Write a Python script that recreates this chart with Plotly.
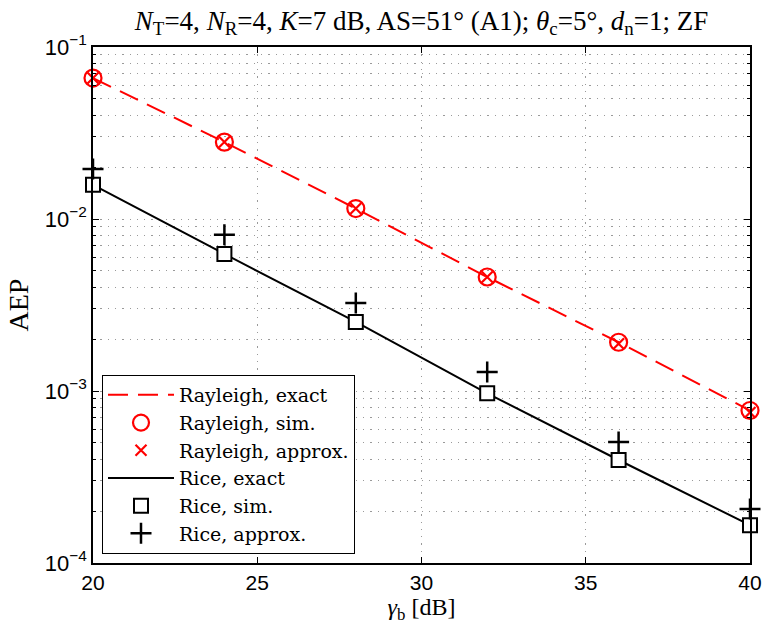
import plotly.graph_objects as go

gamma_b = [20, 24, 28, 32, 36, 40]
rayleigh_exact = [0.066, 0.028, 0.0115, 0.0046, 0.00192, 0.00077]
rayleigh_sim = [0.066, 0.028, 0.0115, 0.0046, 0.00192, 0.00077]
rayleigh_approx = [0.066, 0.028, 0.0115, 0.0046, 0.00188, 0.00075]
rice_exact = [0.0158, 0.00626, 0.00252, 0.00097, 0.000397, 0.000166]
rice_sim = [0.0158, 0.00626, 0.00252, 0.00097, 0.000397, 0.000166]
rice_approx = [0.0195, 0.0081, 0.00325, 0.00129, 0.000505, 0.000206]

y_tickvals = [1e-4, 1e-3, 1e-2, 1e-1]
y_ticktext = ["10<sup>\u22124</sup>", "10<sup>\u22123</sup>", "10<sup>\u22122</sup>", "10<sup>\u22121</sup>"]
x_tickvals = [20, 25, 30, 35, 40]
decades = [1e-4, 1e-3, 1e-2]
digits = [2, 3, 4, 5, 6, 7, 8, 9]
y_minor = [d * m for d in decades for m in digits]

RED = "#ff0000"
SERIF = "Liberation Serif, DejaVu Serif, serif"
LEGSERIF = "DejaVu Serif, Liberation Serif, serif"
SANS = "Liberation Sans, Arial, sans-serif"
GRID = "#9a9a9a"
GRIDDASH = "1.3px,6px"

fig = go.Figure()
fig.add_trace(go.Scatter(x=gamma_b, y=rayleigh_exact, mode="lines", name="Rayleigh, exact",
                         line=dict(color=RED, width=2, dash="20px,10px")))
fig.add_trace(go.Scatter(x=gamma_b, y=rayleigh_sim, mode="markers", name="Rayleigh, sim.", cliponaxis=False,
                         marker=dict(symbol="circle-open", size=17, color=RED, line=dict(width=2.2, color=RED))))
fig.add_trace(go.Scatter(x=gamma_b, y=rayleigh_approx, mode="markers", name="Rayleigh, approx.", cliponaxis=False,
                         marker=dict(symbol="x-thin-open", size=11, color=RED, line=dict(width=2.2, color=RED))))
fig.add_trace(go.Scatter(x=gamma_b, y=rice_exact, mode="lines", name="Rice, exact",
                         line=dict(color="black", width=2)))
fig.add_trace(go.Scatter(x=gamma_b, y=rice_sim, mode="markers", name="Rice, sim.", cliponaxis=False,
                         marker=dict(symbol="square", size=14, color="white", line=dict(width=2, color="black"))))
fig.add_trace(go.Scatter(x=gamma_b, y=rice_approx, mode="markers", name="Rice, approx.", cliponaxis=False,
                         marker=dict(symbol="cross-thin-open", size=15, color="black", line=dict(width=2.5, color="black"))))

fig.update_layout(
    width=763, height=634,
    margin=dict(l=93, r=13, t=47, b=71, autoexpand=False),
    paper_bgcolor="white", plot_bgcolor="white",
    title=dict(
        text="<i>N</i><sub>T</sub>=4, <i>N</i><sub>R</sub>=4, <i>K</i>=7 dB, AS=51\u00b0 (A1); <i>\u03b8</i><sub>c</sub>=5\u00b0, <i>d</i><sub>n</sub>=1; ZF",
        x=0.5, xref="paper", xanchor="center", y=0.968, yanchor="middle",
        font=dict(family=SERIF, size=27, color="black")),
    showlegend=True,
    legend=dict(x=0.0137, y=0.0174, xanchor="left", yanchor="bottom",
                bgcolor="white", bordercolor="black", borderwidth=1,
                font=dict(family=LEGSERIF, size=19, color="black"),
                itemwidth=66, tracegroupgap=0),
)
fig.update_xaxes(
    range=[20, 40], tickvals=x_tickvals, ticks="inside", ticklen=6, tickcolor="black",
    showline=True, linecolor="black", linewidth=1.5, mirror="ticks",
    showgrid=True, gridcolor=GRID, griddash=GRIDDASH, gridwidth=1,
    zeroline=False, automargin=False,
    tickfont=dict(family=SANS, size=21, color="black"),
    title=dict(text="<i>\u03b3</i><sub>b</sub> [dB]", font=dict(family=SERIF, size=24, color="black"), standoff=4),
)
fig.update_yaxes(
    type="log", range=[-4, -1], tickvals=y_tickvals, ticktext=y_ticktext,
    ticks="inside", ticklen=6, tickcolor="black",
    showline=True, linecolor="black", linewidth=1.5, mirror="ticks",
    showgrid=True, gridcolor=GRID, griddash=GRIDDASH, gridwidth=1,
    minor=dict(tickvals=y_minor, ticks="inside", ticklen=3, tickcolor="black", showgrid=True,
               gridcolor=GRID, griddash=GRIDDASH, gridwidth=1),
    zeroline=False, automargin=False,
    tickfont=dict(family=SANS, size=22, color="black"),
    title=dict(text="AEP", font=dict(family=SERIF, size=28, color="black"), standoff=8),
)

fig.write_html("out.html", config={"displayModeBar": False},
               post_script="document.body.style.margin='0';document.body.style.overflow='hidden';")
